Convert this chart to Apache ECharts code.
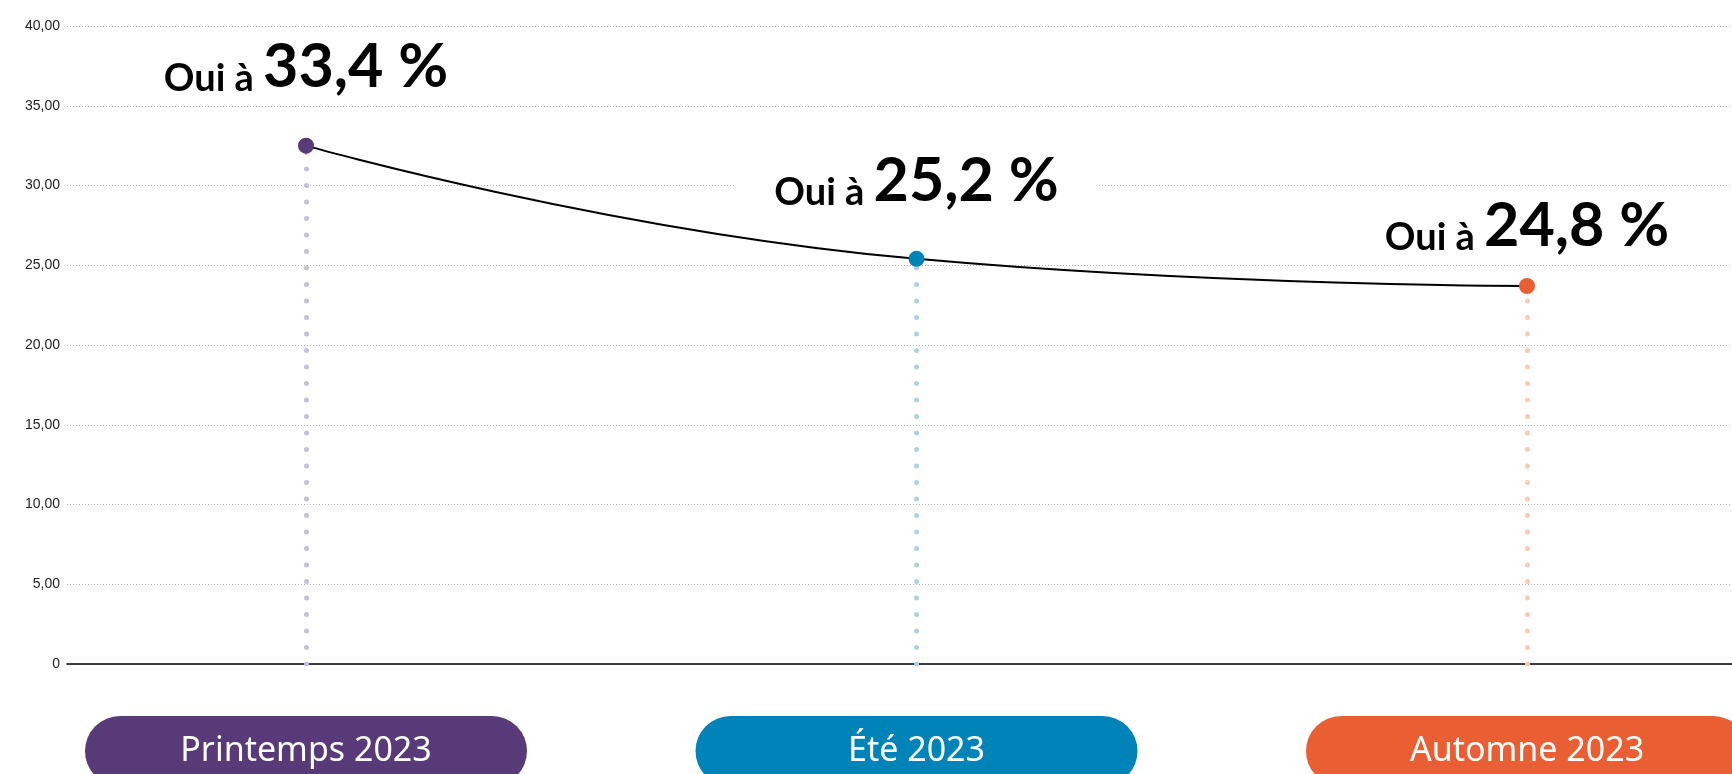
<!DOCTYPE html>
<html>
<head>
<meta charset="utf-8">
<script src="https://cdn.jsdelivr.net/npm/echarts@6/dist/echarts.min.js"></script>
<style>
    html, body { margin: 0; padding: 0; background: #fff; }
    #chart { width: 1732px; height: 774px; }
</style>
</head>
<body>
<div id="chart"></div>
<script>
// données
const saisons = ['Printemps 2023', 'Été 2023', 'Automne 2023'];
const valeurs = [32.5, 25.4, 23.7];
const etiquettes = ['33,4 %', '25,2 %', '24,8 %'];
const yTicks = [0, 5, 10, 15, 20, 25, 30, 35, 40];

// couleurs par saison
const couleurs = ['#573a77', '#0083b8', '#e95f33'];
const couleursPointilles = ['#c8bedb', '#b0d1ea', '#f9ccb3'];
const stylesPastille = ['p', 'e', 'a'];
const distances = [38, 37, 19];

const chart = echarts.init(document.getElementById('chart'));

const pastille = (c) => ({
    color: '#fff',
    backgroundColor: c,
    width: 442,
    height: 70,
    lineHeight: 70,
    borderRadius: 35,
    align: 'center',
    fontFamily: 'Noto Sans',
    fontWeight: 400,
    fontSize: 34
});

const option = {
    animation: false,
    grid: [
        { left: 67, right: 0, top: 26, bottom: 110, outerBoundsMode: 'none' },
        { left: 306, right: 205, top: 26, bottom: 110, outerBoundsMode: 'none' }
    ],
    xAxis: [
        {
            gridIndex: 0,
            type: 'category',
            data: saisons,
            axisLine: { lineStyle: { color: '#000', width: 1.5 } },
            axisTick: { show: false },
            axisLabel: { show: false },
            splitLine: { show: false }
        },
        {
            gridIndex: 1,
            type: 'category',
            data: saisons,
            boundaryGap: false,
            axisLine: { show: false },
            axisTick: { show: false },
            axisLabel: {
                interval: 0,
                margin: 52,
                hideOverlap: false,
                formatter: (v, i) => '{' + stylesPastille[i] + '|' + v + '}',
                rich: {
                    p: pastille(couleurs[0]),
                    e: pastille(couleurs[1]),
                    a: pastille(couleurs[2])
                }
            }
        }
    ],
    yAxis: [
        {
            gridIndex: 0,
            type: 'value',
            min: yTicks[0],
            max: yTicks[yTicks.length - 1],
            interval: 5,
            axisLine: { show: false },
            axisTick: { show: false },
            axisLabel: {
                margin: 7,
                color: '#222',
                fontFamily: 'Liberation Sans',
                fontSize: 14,
                formatter: (v) => v === 0 ? '0' : v.toFixed(2).replace('.', ',')
            },
            splitLine: { lineStyle: { color: '#b8b8b8', type: [1, 2], width: 1 } }
        },
        {
            gridIndex: 1,
            type: 'value',
            min: yTicks[0],
            max: yTicks[yTicks.length - 1],
            show: false
        }
    ],
    series: [{
        type: 'line',
        xAxisIndex: 1,
        yAxisIndex: 1,
        smooth: 0.5,
        symbol: 'circle',
        symbolSize: 16,
        z: 5,
        lineStyle: { color: '#000', width: 2 },
        data: valeurs.map((v, i) => ({
            value: v,
            itemStyle: { color: couleurs[i] },
            label: { distance: distances[i] }
        })),
        label: {
            show: true,
            position: 'top',
            backgroundColor: '#fff',
            padding: [2, 40, 2, 40],
            formatter: (p) => '{a|Oui à }{b|' + etiquettes[p.dataIndex] + '}',
            rich: {
                a: { fontFamily: 'Lato', fontWeight: 'bold', fontSize: 38, color: '#000', verticalAlign: 'bottom' },
                b: { fontFamily: 'Lato', fontWeight: 'bold', fontSize: 61, color: '#000', verticalAlign: 'bottom' }
            }
        },
        markLine: {
            silent: true,
            symbol: ['none', 'none'],
            label: { show: false },
            data: valeurs.map((v, i) => [
                { coord: [i, 0], lineStyle: { color: couleursPointilles[i], width: 5, type: [0.1, 16.4], cap: 'round' } },
                { coord: [i, v] }
            ])
        }
    }]
};

chart.setOption(option);

window.addEventListener('resize', () => {
    chart.resize();
});
</script>
</body>
</html>
